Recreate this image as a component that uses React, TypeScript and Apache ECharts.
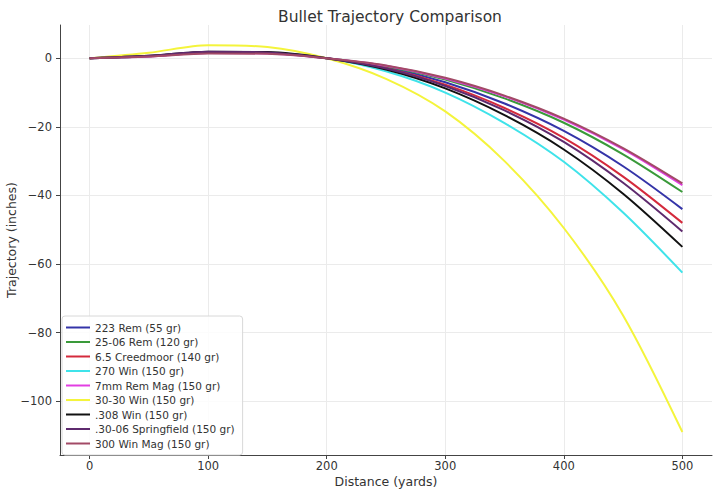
import { useEffect, useRef } from 'react';
import * as echarts from 'echarts';

const distances = [0, 50, 100, 150, 200, 250, 300, 350, 400, 450, 500];

const rem223 = [0, 0.6, 1.6, 1.5, 0, -2.6, -7.0, -13.2, -21.2, -31.5, -44];
const rem2506 = [0, 0.6, 1.6, 1.5, 0, -2.3, -6.2, -11.7, -18.8, -28, -39];
const creedmoor65 = [0, 0.6, 1.7, 1.6, 0, -2.9, -7.7, -14.5, -23.2, -34.5, -48];
const win270 = [0, 0.6, 1.7, 1.6, 0, -3.8, -10.0, -18.9, -30.2, -45, -62.5];
const remMag7mm = [0, 0.5, 1.5, 1.4, 0, -2.2, -5.9, -11.1, -17.9, -26.5, -37];
const win3030 = [0, 1.6, 3.8, 3.3, 0, -6, -15.5, -30, -49.5, -75, -109];
const win308 = [0, 0.7, 1.9, 1.8, 0, -3.3, -8.8, -16.6, -26.6, -39.5, -55];
const springfield3006 = [0, 0.7, 1.9, 1.7, 0, -3, -8.1, -15.2, -24.4, -36.3, -50.5];
const winMag300 = [0, 0.5, 1.4, 1.3, 0, -2.1, -5.7, -10.9, -17.6, -26.2, -36.5];

const seriesNames = [
  '223 Rem (55 gr)',
  '25-06 Rem (120 gr)',
  '6.5 Creedmoor (140 gr)',
  '270 Win (150 gr)',
  '7mm Rem Mag (150 gr)',
  '30-30 Win (150 gr)',
  '.308 Win (150 gr)',
  '.30-06 Springfield (150 gr)',
  '300 Win Mag (150 gr)'
];
const seriesValues = [rem223, rem2506, creedmoor65, win270, remMag7mm, win3030, win308, springfield3006, winMag300];
const seriesColors = ['#3434a8', '#3a9a3a', '#d42a3c', '#3fe3ea', '#e23ee2', '#f4f43c', '#111111', '#5e2a6e', '#a24a66'];

const xTicks = [0, 100, 200, 300, 400, 500];
const yTicks = [-100, -80, -60, -40, -20, 0];

export default function App() {
  const chartRef = useRef<HTMLDivElement>(null);

  useEffect(() => {
    document.body.style.margin = '0';
    if (!chartRef.current) return;
    const chart = echarts.init(chartRef.current, null, { renderer: 'svg' });
    const font = 'DejaVu Sans';
    const textColor = '#333';
    const gridColor = '#ebebeb';

    const series: echarts.SeriesOption[] = seriesNames.map((name, i) => ({
      name,
      type: 'line',
      data: distances.map((d, j) => [d, seriesValues[i][j]]),
      smooth: 0.3,
      symbol: 'none',
      lineStyle: { color: seriesColors[i], width: 2 },
      itemStyle: { color: seriesColors[i] }
    }));

    chart.setOption({
      animation: false,
      textStyle: { fontFamily: font },
      title: {
        text: 'Bullet Trajectory Comparison',
        left: 385,
        top: 4,
        textAlign: 'center',
        textStyle: { fontSize: 15.5, fontWeight: 'normal', color: '#333', fontFamily: font }
      },
      grid: { left: 60, right: 8, top: 25, bottom: 40, outerBoundsMode: 'none' },
      xAxis: {
        type: 'value',
        min: -25,
        max: 525,
        name: 'Distance (yards)',
        nameLocation: 'middle',
        nameGap: 20,
        nameMoveOverlap: false,
        nameTextStyle: { fontSize: 12.5, color: textColor, fontFamily: font },
        axisLine: { show: true, onZero: false, lineStyle: { color: '#444', width: 1 } },
        axisTick: { show: true, customValues: xTicks, length: 4, lineStyle: { color: '#444' } },
        axisLabel: { customValues: xTicks, fontSize: 11.5, color: textColor, margin: 5, fontFamily: font },
        splitLine: { show: true, lineStyle: { color: gridColor, width: 1 } }
      },
      yAxis: {
        type: 'value',
        min: -115.7,
        max: 9.7,
        name: 'Trajectory (inches)',
        nameLocation: 'middle',
        nameGap: 42,
        nameMoveOverlap: false,
        nameTextStyle: { fontSize: 12.5, color: textColor, fontFamily: font },
        axisLine: { show: true, onZero: false, lineStyle: { color: '#444', width: 1 } },
        axisTick: { show: true, customValues: yTicks, length: 4, lineStyle: { color: '#444' } },
        axisLabel: {
          customValues: yTicks,
          fontSize: 11.5,
          color: textColor,
          margin: 8,
          fontFamily: font,
          formatter: (v: number) => (v < 0 ? '\u2212' + Math.abs(v) : String(v))
        },
        splitLine: { show: true, lineStyle: { color: gridColor, width: 1 } }
      },
      legend: {
        orient: 'vertical',
        left: 62,
        top: 316,
        icon: 'rect',
        itemWidth: 24,
        itemHeight: 2,
        itemGap: 3.5,
        padding: [6, 8, 6, 4],
        backgroundColor: 'rgba(255,255,255,0.85)',
        borderColor: '#d8d8d8',
        borderWidth: 1,
        borderRadius: 3,
        textStyle: { fontSize: 10.5, color: textColor, fontFamily: font },
        data: seriesNames
      },
      series
    });

    return () => chart.dispose();
  }, []);

  return <div ref={chartRef} style={{ width: 720, height: 495 }} />;
}
